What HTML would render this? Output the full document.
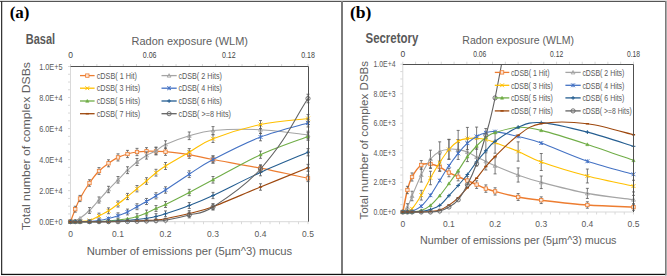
<!DOCTYPE html>
<html><head><meta charset="utf-8"><style>
html,body{margin:0;padding:0;background:#fff;}
svg{display:block;font-family:"Liberation Sans", sans-serif;}
</style></head><body>
<svg width="667" height="276" viewBox="0 0 667 276">
<rect width="667" height="276" fill="#fff"/>
<text x="9.70" y="18.40" font-family='"Liberation Serif", serif'  font-size="17.6" font-weight="bold" fill="#000" textLength="19.80" lengthAdjust="spacingAndGlyphs">(a)</text>
<text x="25.80" y="44.20" font-size="14.00" fill="#595959" text-anchor="start" font-weight="bold" textLength="29.30" lengthAdjust="spacingAndGlyphs">Basal</text>
<text x="131.50" y="44.80" font-size="11.50" fill="#606060" text-anchor="start" font-weight="normal" textLength="116.50" lengthAdjust="spacingAndGlyphs">Radon exposure (WLM)</text>
<text x="86.70" y="255.00" font-size="11.50" fill="#606060" text-anchor="start" font-weight="normal" textLength="205.50" lengthAdjust="spacingAndGlyphs">Number of emissions per (5&#181;m^3) mucus</text>
<text transform="translate(30.00 230.20) rotate(-90)" x="0" y="0" font-size="11.8" fill="#606060" textLength="168.20" lengthAdjust="spacingAndGlyphs">Total number of complex DSBs</text>
<g stroke="#D9D9D9" stroke-width="1">
<path d="M70.50 66.50 L70.50 221.70"/>
<path d="M68.00 221.70 L70.50 221.70"/>
<path d="M68.00 213.94 L70.50 213.94"/>
<path d="M68.00 206.18 L70.50 206.18"/>
<path d="M68.00 198.42 L70.50 198.42"/>
<path d="M68.00 190.66 L70.50 190.66"/>
<path d="M68.00 182.90 L70.50 182.90"/>
<path d="M68.00 175.14 L70.50 175.14"/>
<path d="M68.00 167.38 L70.50 167.38"/>
<path d="M68.00 159.62 L70.50 159.62"/>
<path d="M68.00 151.86 L70.50 151.86"/>
<path d="M68.00 144.10 L70.50 144.10"/>
<path d="M68.00 136.34 L70.50 136.34"/>
<path d="M68.00 128.58 L70.50 128.58"/>
<path d="M68.00 120.82 L70.50 120.82"/>
<path d="M68.00 113.06 L70.50 113.06"/>
<path d="M68.00 105.30 L70.50 105.30"/>
<path d="M68.00 97.54 L70.50 97.54"/>
<path d="M68.00 89.78 L70.50 89.78"/>
<path d="M68.00 82.02 L70.50 82.02"/>
<path d="M68.00 74.26 L70.50 74.26"/>
<path d="M68.00 66.50 L70.50 66.50"/>
<path d="M70.50 221.70 L308.00 221.70"/>
<path d="M70.50 221.70 L70.50 224.20"/>
<path d="M80.00 221.70 L80.00 224.20"/>
<path d="M89.50 221.70 L89.50 224.20"/>
<path d="M99.00 221.70 L99.00 224.20"/>
<path d="M108.50 221.70 L108.50 224.20"/>
<path d="M118.00 221.70 L118.00 224.20"/>
<path d="M127.50 221.70 L127.50 224.20"/>
<path d="M137.00 221.70 L137.00 224.20"/>
<path d="M146.50 221.70 L146.50 224.20"/>
<path d="M156.00 221.70 L156.00 224.20"/>
<path d="M165.50 221.70 L165.50 224.20"/>
<path d="M175.00 221.70 L175.00 224.20"/>
<path d="M184.50 221.70 L184.50 224.20"/>
<path d="M194.00 221.70 L194.00 224.20"/>
<path d="M203.50 221.70 L203.50 224.20"/>
<path d="M213.00 221.70 L213.00 224.20"/>
<path d="M222.50 221.70 L222.50 224.20"/>
<path d="M232.00 221.70 L232.00 224.20"/>
<path d="M241.50 221.70 L241.50 224.20"/>
<path d="M251.00 221.70 L251.00 224.20"/>
<path d="M260.50 221.70 L260.50 224.20"/>
<path d="M270.00 221.70 L270.00 224.20"/>
<path d="M279.50 221.70 L279.50 224.20"/>
<path d="M289.00 221.70 L289.00 224.20"/>
<path d="M298.50 221.70 L298.50 224.20"/>
<path d="M308.00 221.70 L308.00 224.20"/>
<path d="M70.50 64.00 L70.50 66.50"/>
<path d="M83.69 64.00 L83.69 66.50"/>
<path d="M96.89 64.00 L96.89 66.50"/>
<path d="M110.08 64.00 L110.08 66.50"/>
<path d="M123.28 64.00 L123.28 66.50"/>
<path d="M136.47 64.00 L136.47 66.50"/>
<path d="M149.67 64.00 L149.67 66.50"/>
<path d="M162.86 64.00 L162.86 66.50"/>
<path d="M176.06 64.00 L176.06 66.50"/>
<path d="M189.25 64.00 L189.25 66.50"/>
<path d="M202.44 64.00 L202.44 66.50"/>
<path d="M215.64 64.00 L215.64 66.50"/>
<path d="M228.83 64.00 L228.83 66.50"/>
<path d="M242.03 64.00 L242.03 66.50"/>
<path d="M255.22 64.00 L255.22 66.50"/>
<path d="M268.42 64.00 L268.42 66.50"/>
<path d="M281.61 64.00 L281.61 66.50"/>
<path d="M294.81 64.00 L294.81 66.50"/>
<path d="M308.00 64.00 L308.00 66.50"/>
</g>
<text x="62.60" y="224.70" font-size="8.50" fill="#595959" text-anchor="end" font-weight="normal" textLength="23.40" lengthAdjust="spacingAndGlyphs">0.0E+0</text>
<text x="62.60" y="193.66" font-size="8.50" fill="#595959" text-anchor="end" font-weight="normal" textLength="23.40" lengthAdjust="spacingAndGlyphs">2.0E+4</text>
<text x="62.60" y="162.62" font-size="8.50" fill="#595959" text-anchor="end" font-weight="normal" textLength="23.40" lengthAdjust="spacingAndGlyphs">4.0E+4</text>
<text x="62.60" y="131.58" font-size="8.50" fill="#595959" text-anchor="end" font-weight="normal" textLength="23.40" lengthAdjust="spacingAndGlyphs">6.0E+4</text>
<text x="62.60" y="100.54" font-size="8.50" fill="#595959" text-anchor="end" font-weight="normal" textLength="23.40" lengthAdjust="spacingAndGlyphs">8.0E+4</text>
<text x="62.60" y="69.50" font-size="8.50" fill="#595959" text-anchor="end" font-weight="normal" textLength="23.40" lengthAdjust="spacingAndGlyphs">1.0E+5</text>
<text x="70.50" y="236.70" font-size="8.50" fill="#595959" text-anchor="middle" font-weight="normal">0</text>
<text x="118.00" y="236.70" font-size="8.50" fill="#595959" text-anchor="middle" font-weight="normal">0.1</text>
<text x="165.50" y="236.70" font-size="8.50" fill="#595959" text-anchor="middle" font-weight="normal">0.2</text>
<text x="213.00" y="236.70" font-size="8.50" fill="#595959" text-anchor="middle" font-weight="normal">0.3</text>
<text x="260.50" y="236.70" font-size="8.50" fill="#595959" text-anchor="middle" font-weight="normal">0.4</text>
<text x="308.00" y="236.70" font-size="8.50" fill="#595959" text-anchor="middle" font-weight="normal">0.5</text>
<text x="70.50" y="58.10" font-size="8.50" fill="#454545" text-anchor="middle" font-weight="normal">0</text>
<text x="149.67" y="58.10" font-size="8.50" fill="#454545" text-anchor="middle" font-weight="normal" textLength="13.70" lengthAdjust="spacingAndGlyphs">0.06</text>
<text x="228.83" y="58.10" font-size="8.50" fill="#454545" text-anchor="middle" font-weight="normal" textLength="13.70" lengthAdjust="spacingAndGlyphs">0.12</text>
<text x="308.00" y="58.10" font-size="8.50" fill="#454545" text-anchor="middle" font-weight="normal" textLength="13.70" lengthAdjust="spacingAndGlyphs">0.18</text>
<defs><clipPath id="ca"><rect x="67.50" y="66.50" width="243.50" height="158.20"/></clipPath></defs>
<g clip-path="url(#ca)">
<path d="M70.50 221.70 C71.29 219.62 73.67 213.07 75.25 209.20 C76.83 205.33 77.62 202.87 80.00 198.50 C82.38 194.13 86.33 187.58 89.50 183.00 C92.67 178.42 95.83 174.28 99.00 171.00 C102.17 167.72 105.33 165.57 108.50 163.30 C111.67 161.03 114.83 158.95 118.00 157.40 C121.17 155.85 124.33 154.90 127.50 154.00 C130.67 153.10 133.83 152.45 137.00 152.00 C140.17 151.55 143.33 151.42 146.50 151.30 C149.67 151.18 152.83 151.23 156.00 151.30 C159.17 151.37 159.96 151.13 165.50 151.70 C171.04 152.27 181.33 153.40 189.25 154.70 C197.17 156.00 201.12 157.25 213.00 159.50 C224.88 161.75 244.67 165.07 260.50 168.20 C276.33 171.33 300.08 176.62 308.00 178.30" fill="none" stroke="#ED7D31" stroke-width="1.25"/>
<g stroke="#595959" stroke-width="0.8">
<path d="M75.25 206.25 L75.25 212.15 M73.75 206.25 L76.75 206.25 M73.75 212.15 L76.75 212.15"/>
<path d="M80.00 195.42 L80.00 201.58 M78.50 195.42 L81.50 195.42 M78.50 201.58 L81.50 201.58"/>
<path d="M89.50 179.74 L89.50 186.26 M88.00 179.74 L91.00 179.74 M88.00 186.26 L91.00 186.26"/>
<path d="M99.00 167.59 L99.00 174.41 M97.50 167.59 L100.50 167.59 M97.50 174.41 L100.50 174.41"/>
<path d="M108.50 159.80 L108.50 166.80 M107.00 159.80 L110.00 159.80 M107.00 166.80 L110.00 166.80"/>
<path d="M118.00 153.83 L118.00 160.97 M116.50 153.83 L119.50 153.83 M116.50 160.97 L119.50 160.97"/>
<path d="M127.50 150.39 L127.50 157.61 M126.00 150.39 L129.00 150.39 M126.00 157.61 L129.00 157.61"/>
<path d="M137.00 148.36 L137.00 155.64 M135.50 148.36 L138.50 148.36 M135.50 155.64 L138.50 155.64"/>
<path d="M146.50 147.66 L146.50 154.94 M145.00 147.66 L148.00 147.66 M145.00 154.94 L148.00 154.94"/>
<path d="M156.00 147.66 L156.00 154.94 M154.50 147.66 L157.50 147.66 M154.50 154.94 L157.50 154.94"/>
<path d="M165.50 148.06 L165.50 155.34 M164.00 148.06 L167.00 148.06 M164.00 155.34 L167.00 155.34"/>
<path d="M189.25 151.10 L189.25 158.30 M187.75 151.10 L190.75 151.10 M187.75 158.30 L190.75 158.30"/>
<path d="M213.00 155.95 L213.00 163.05 M211.50 155.95 L214.50 155.95 M211.50 163.05 L214.50 163.05"/>
<path d="M260.50 164.76 L260.50 171.64 M259.00 164.76 L262.00 164.76 M259.00 171.64 L262.00 171.64"/>
<path d="M308.00 174.98 L308.00 181.62 M306.50 174.98 L309.50 174.98 M306.50 181.62 L309.50 181.62"/>
</g>
<rect x="68.80" y="220.00" width="3.40" height="3.40" fill="#fbe5d6" stroke="#ED7D31" stroke-width="0.8"/>
<rect x="73.55" y="207.50" width="3.40" height="3.40" fill="#fbe5d6" stroke="#ED7D31" stroke-width="0.8"/>
<rect x="78.30" y="196.80" width="3.40" height="3.40" fill="#fbe5d6" stroke="#ED7D31" stroke-width="0.8"/>
<rect x="87.80" y="181.30" width="3.40" height="3.40" fill="#fbe5d6" stroke="#ED7D31" stroke-width="0.8"/>
<rect x="97.30" y="169.30" width="3.40" height="3.40" fill="#fbe5d6" stroke="#ED7D31" stroke-width="0.8"/>
<rect x="106.80" y="161.60" width="3.40" height="3.40" fill="#fbe5d6" stroke="#ED7D31" stroke-width="0.8"/>
<rect x="116.30" y="155.70" width="3.40" height="3.40" fill="#fbe5d6" stroke="#ED7D31" stroke-width="0.8"/>
<rect x="125.80" y="152.30" width="3.40" height="3.40" fill="#fbe5d6" stroke="#ED7D31" stroke-width="0.8"/>
<rect x="135.30" y="150.30" width="3.40" height="3.40" fill="#fbe5d6" stroke="#ED7D31" stroke-width="0.8"/>
<rect x="144.80" y="149.60" width="3.40" height="3.40" fill="#fbe5d6" stroke="#ED7D31" stroke-width="0.8"/>
<rect x="154.30" y="149.60" width="3.40" height="3.40" fill="#fbe5d6" stroke="#ED7D31" stroke-width="0.8"/>
<rect x="163.80" y="150.00" width="3.40" height="3.40" fill="#fbe5d6" stroke="#ED7D31" stroke-width="0.8"/>
<rect x="187.55" y="153.00" width="3.40" height="3.40" fill="#fbe5d6" stroke="#ED7D31" stroke-width="0.8"/>
<rect x="211.30" y="157.80" width="3.40" height="3.40" fill="#fbe5d6" stroke="#ED7D31" stroke-width="0.8"/>
<rect x="258.80" y="166.50" width="3.40" height="3.40" fill="#fbe5d6" stroke="#ED7D31" stroke-width="0.8"/>
<rect x="306.30" y="176.60" width="3.40" height="3.40" fill="#fbe5d6" stroke="#ED7D31" stroke-width="0.8"/>
<path d="M70.50 221.70 C71.29 221.58 73.67 221.57 75.25 221.00 C76.83 220.43 77.62 220.05 80.00 218.30 C82.38 216.55 86.33 213.55 89.50 210.50 C92.67 207.45 95.83 203.50 99.00 200.00 C102.17 196.50 105.33 192.87 108.50 189.50 C111.67 186.13 114.83 183.02 118.00 179.80 C121.17 176.58 124.33 173.17 127.50 170.20 C130.67 167.23 133.83 164.45 137.00 162.00 C140.17 159.55 143.33 157.38 146.50 155.50 C149.67 153.62 152.83 152.53 156.00 150.70 C159.17 148.87 159.96 146.98 165.50 144.50 C171.04 142.02 181.33 138.13 189.25 135.80 C197.17 133.47 201.12 131.52 213.00 130.50 C224.88 129.48 244.67 128.95 260.50 129.70 C276.33 130.45 300.08 134.12 308.00 135.00" fill="none" stroke="#A5A5A5" stroke-width="1.1"/>
<g stroke="#595959" stroke-width="0.8">
<path d="M89.50 207.57 L89.50 213.43 M88.00 207.57 L91.00 207.57 M88.00 213.43 L91.00 213.43"/>
<path d="M99.00 196.94 L99.00 203.06 M97.50 196.94 L100.50 196.94 M97.50 203.06 L100.50 203.06"/>
<path d="M108.50 186.31 L108.50 192.69 M107.00 186.31 L110.00 186.31 M107.00 192.69 L110.00 192.69"/>
<path d="M118.00 176.50 L118.00 183.10 M116.50 176.50 L119.50 176.50 M116.50 183.10 L119.50 183.10"/>
<path d="M127.50 166.78 L127.50 173.62 M126.00 166.78 L129.00 166.78 M126.00 173.62 L129.00 173.62"/>
<path d="M137.00 158.48 L137.00 165.52 M135.50 158.48 L138.50 158.48 M135.50 165.52 L138.50 165.52"/>
<path d="M146.50 151.91 L146.50 159.09 M145.00 151.91 L148.00 151.91 M145.00 159.09 L148.00 159.09"/>
<path d="M156.00 147.05 L156.00 154.35 M154.50 147.05 L157.50 147.05 M154.50 154.35 L157.50 154.35"/>
<path d="M165.50 140.77 L165.50 148.23 M164.00 140.77 L167.00 140.77 M164.00 148.23 L167.00 148.23"/>
<path d="M189.25 131.97 L189.25 139.63 M187.75 131.97 L190.75 131.97 M187.75 139.63 L190.75 139.63"/>
<path d="M213.00 126.61 L213.00 134.39 M211.50 126.61 L214.50 126.61 M211.50 134.39 L214.50 134.39"/>
<path d="M260.50 125.80 L260.50 133.60 M259.00 125.80 L262.00 125.80 M259.00 133.60 L262.00 133.60"/>
<path d="M308.00 131.16 L308.00 138.84 M306.50 131.16 L309.50 131.16 M306.50 138.84 L309.50 138.84"/>
</g>
<path d="M70.50 219.80 L72.40 223.22 L68.60 223.22 Z" fill="none" stroke="#A5A5A5" stroke-width="0.9"/>
<path d="M75.25 219.10 L77.15 222.52 L73.35 222.52 Z" fill="none" stroke="#A5A5A5" stroke-width="0.9"/>
<path d="M80.00 216.40 L81.90 219.82 L78.10 219.82 Z" fill="none" stroke="#A5A5A5" stroke-width="0.9"/>
<path d="M89.50 208.60 L91.40 212.02 L87.60 212.02 Z" fill="none" stroke="#A5A5A5" stroke-width="0.9"/>
<path d="M99.00 198.10 L100.90 201.52 L97.10 201.52 Z" fill="none" stroke="#A5A5A5" stroke-width="0.9"/>
<path d="M108.50 187.60 L110.40 191.02 L106.60 191.02 Z" fill="none" stroke="#A5A5A5" stroke-width="0.9"/>
<path d="M118.00 177.90 L119.90 181.32 L116.10 181.32 Z" fill="none" stroke="#A5A5A5" stroke-width="0.9"/>
<path d="M127.50 168.30 L129.40 171.72 L125.60 171.72 Z" fill="none" stroke="#A5A5A5" stroke-width="0.9"/>
<path d="M137.00 160.10 L138.90 163.52 L135.10 163.52 Z" fill="none" stroke="#A5A5A5" stroke-width="0.9"/>
<path d="M146.50 153.60 L148.40 157.02 L144.60 157.02 Z" fill="none" stroke="#A5A5A5" stroke-width="0.9"/>
<path d="M156.00 148.80 L157.90 152.22 L154.10 152.22 Z" fill="none" stroke="#A5A5A5" stroke-width="0.9"/>
<path d="M165.50 142.60 L167.40 146.02 L163.60 146.02 Z" fill="none" stroke="#A5A5A5" stroke-width="0.9"/>
<path d="M189.25 133.90 L191.15 137.32 L187.35 137.32 Z" fill="none" stroke="#A5A5A5" stroke-width="0.9"/>
<path d="M213.00 128.60 L214.90 132.02 L211.10 132.02 Z" fill="none" stroke="#A5A5A5" stroke-width="0.9"/>
<path d="M260.50 127.80 L262.40 131.22 L258.60 131.22 Z" fill="none" stroke="#A5A5A5" stroke-width="0.9"/>
<path d="M308.00 133.10 L309.90 136.52 L306.10 136.52 Z" fill="none" stroke="#A5A5A5" stroke-width="0.9"/>
<path d="M70.50 221.70 C71.29 221.70 73.67 221.73 75.25 221.70 C76.83 221.67 77.62 221.70 80.00 221.50 C82.38 221.30 86.33 221.42 89.50 220.50 C92.67 219.58 95.83 217.62 99.00 216.00 C102.17 214.38 105.33 212.80 108.50 210.80 C111.67 208.80 114.83 206.38 118.00 204.00 C121.17 201.62 124.33 199.05 127.50 196.50 C130.67 193.95 133.83 191.28 137.00 188.70 C140.17 186.12 143.33 183.67 146.50 181.00 C149.67 178.33 152.83 175.20 156.00 172.70 C159.17 170.20 159.96 169.42 165.50 166.00 C171.04 162.58 181.33 156.75 189.25 152.20 C197.17 147.65 201.12 143.32 213.00 138.70 C224.88 134.08 244.67 127.87 260.50 124.50 C276.33 121.13 300.08 119.50 308.00 118.50" fill="none" stroke="#FFC000" stroke-width="1.1"/>
<g stroke="#595959" stroke-width="0.8">
<path d="M99.00 213.13 L99.00 218.87 M97.50 213.13 L100.50 213.13 M97.50 218.87 L100.50 218.87"/>
<path d="M108.50 207.87 L108.50 213.73 M107.00 207.87 L110.00 207.87 M107.00 213.73 L110.00 213.73"/>
<path d="M118.00 200.99 L118.00 207.01 M116.50 200.99 L119.50 200.99 M116.50 207.01 L119.50 207.01"/>
<path d="M127.50 193.40 L127.50 199.60 M126.00 193.40 L129.00 193.40 M126.00 199.60 L129.00 199.60"/>
<path d="M137.00 185.50 L137.00 191.90 M135.50 185.50 L138.50 185.50 M135.50 191.90 L138.50 191.90"/>
<path d="M146.50 177.71 L146.50 184.29 M145.00 177.71 L148.00 177.71 M145.00 184.29 L148.00 184.29"/>
<path d="M156.00 169.31 L156.00 176.09 M154.50 169.31 L157.50 169.31 M154.50 176.09 L157.50 176.09"/>
<path d="M165.50 162.53 L165.50 169.47 M164.00 162.53 L167.00 162.53 M164.00 169.47 L167.00 169.47"/>
<path d="M189.25 148.57 L189.25 155.83 M187.75 148.57 L190.75 148.57 M187.75 155.83 L190.75 155.83"/>
<path d="M213.00 134.90 L213.00 142.50 M211.50 134.90 L214.50 134.90 M211.50 142.50 L214.50 142.50"/>
<path d="M260.50 120.53 L260.50 128.47 M259.00 120.53 L262.00 120.53 M259.00 128.47 L262.00 128.47"/>
<path d="M308.00 114.46 L308.00 122.54 M306.50 114.46 L309.50 114.46 M306.50 122.54 L309.50 122.54"/>
</g>
<path d="M68.60 219.80 L72.40 223.60 M68.60 223.60 L72.40 219.80" stroke="#FFC000" stroke-width="1"/>
<path d="M73.35 219.80 L77.15 223.60 M73.35 223.60 L77.15 219.80" stroke="#FFC000" stroke-width="1"/>
<path d="M78.10 219.60 L81.90 223.40 M78.10 223.40 L81.90 219.60" stroke="#FFC000" stroke-width="1"/>
<path d="M87.60 218.60 L91.40 222.40 M87.60 222.40 L91.40 218.60" stroke="#FFC000" stroke-width="1"/>
<path d="M97.10 214.10 L100.90 217.90 M97.10 217.90 L100.90 214.10" stroke="#FFC000" stroke-width="1"/>
<path d="M106.60 208.90 L110.40 212.70 M106.60 212.70 L110.40 208.90" stroke="#FFC000" stroke-width="1"/>
<path d="M116.10 202.10 L119.90 205.90 M116.10 205.90 L119.90 202.10" stroke="#FFC000" stroke-width="1"/>
<path d="M125.60 194.60 L129.40 198.40 M125.60 198.40 L129.40 194.60" stroke="#FFC000" stroke-width="1"/>
<path d="M135.10 186.80 L138.90 190.60 M135.10 190.60 L138.90 186.80" stroke="#FFC000" stroke-width="1"/>
<path d="M144.60 179.10 L148.40 182.90 M144.60 182.90 L148.40 179.10" stroke="#FFC000" stroke-width="1"/>
<path d="M154.10 170.80 L157.90 174.60 M154.10 174.60 L157.90 170.80" stroke="#FFC000" stroke-width="1"/>
<path d="M163.60 164.10 L167.40 167.90 M163.60 167.90 L167.40 164.10" stroke="#FFC000" stroke-width="1"/>
<path d="M187.35 150.30 L191.15 154.10 M187.35 154.10 L191.15 150.30" stroke="#FFC000" stroke-width="1"/>
<path d="M211.10 136.80 L214.90 140.60 M211.10 140.60 L214.90 136.80" stroke="#FFC000" stroke-width="1"/>
<path d="M258.60 122.60 L262.40 126.40 M258.60 126.40 L262.40 122.60" stroke="#FFC000" stroke-width="1"/>
<path d="M306.10 116.60 L309.90 120.40 M306.10 120.40 L309.90 116.60" stroke="#FFC000" stroke-width="1"/>
<path d="M70.50 221.70 C71.29 221.70 73.67 221.70 75.25 221.70 C76.83 221.70 77.62 221.73 80.00 221.70 C82.38 221.67 86.33 221.70 89.50 221.50 C92.67 221.30 95.83 221.00 99.00 220.50 C102.17 220.00 105.33 219.30 108.50 218.50 C111.67 217.70 114.83 216.78 118.00 215.70 C121.17 214.62 124.33 213.50 127.50 212.00 C130.67 210.50 133.83 208.45 137.00 206.70 C140.17 204.95 143.33 203.32 146.50 201.50 C149.67 199.68 152.83 197.72 156.00 195.80 C159.17 193.88 159.96 193.60 165.50 190.00 C171.04 186.40 181.33 179.28 189.25 174.20 C197.17 169.12 201.12 165.70 213.00 159.50 C224.88 153.30 244.67 143.08 260.50 137.00 C276.33 130.92 300.08 125.33 308.00 123.00" fill="none" stroke="#4472C4" stroke-width="1.1"/>
<g stroke="#595959" stroke-width="0.8">
<path d="M118.00 212.83 L118.00 218.57 M116.50 212.83 L119.50 212.83 M116.50 218.57 L119.50 218.57"/>
<path d="M127.50 209.08 L127.50 214.92 M126.00 209.08 L129.00 209.08 M126.00 214.92 L129.00 214.92"/>
<path d="M137.00 203.72 L137.00 209.68 M135.50 203.72 L138.50 203.72 M135.50 209.68 L138.50 209.68"/>
<path d="M146.50 198.46 L146.50 204.54 M145.00 198.46 L148.00 198.46 M145.00 204.54 L148.00 204.54"/>
<path d="M156.00 192.69 L156.00 198.91 M154.50 192.69 L157.50 192.69 M154.50 198.91 L157.50 198.91"/>
<path d="M165.50 186.82 L165.50 193.18 M164.00 186.82 L167.00 186.82 M164.00 193.18 L167.00 193.18"/>
<path d="M189.25 170.83 L189.25 177.57 M187.75 170.83 L190.75 170.83 M187.75 177.57 L190.75 177.57"/>
<path d="M213.00 155.95 L213.00 163.05 M211.50 155.95 L214.50 155.95 M211.50 163.05 L214.50 163.05"/>
<path d="M260.50 133.18 L260.50 140.82 M259.00 133.18 L262.00 133.18 M259.00 140.82 L262.00 140.82"/>
<path d="M308.00 119.02 L308.00 126.98 M306.50 119.02 L309.50 119.02 M306.50 126.98 L309.50 126.98"/>
</g>
<path d="M68.60 219.80 L72.40 223.60 M68.60 223.60 L72.40 219.80 M70.50 219.80 L70.50 223.60" stroke="#4472C4" stroke-width="1"/>
<path d="M73.35 219.80 L77.15 223.60 M73.35 223.60 L77.15 219.80 M75.25 219.80 L75.25 223.60" stroke="#4472C4" stroke-width="1"/>
<path d="M78.10 219.80 L81.90 223.60 M78.10 223.60 L81.90 219.80 M80.00 219.80 L80.00 223.60" stroke="#4472C4" stroke-width="1"/>
<path d="M87.60 219.60 L91.40 223.40 M87.60 223.40 L91.40 219.60 M89.50 219.60 L89.50 223.40" stroke="#4472C4" stroke-width="1"/>
<path d="M97.10 218.60 L100.90 222.40 M97.10 222.40 L100.90 218.60 M99.00 218.60 L99.00 222.40" stroke="#4472C4" stroke-width="1"/>
<path d="M106.60 216.60 L110.40 220.40 M106.60 220.40 L110.40 216.60 M108.50 216.60 L108.50 220.40" stroke="#4472C4" stroke-width="1"/>
<path d="M116.10 213.80 L119.90 217.60 M116.10 217.60 L119.90 213.80 M118.00 213.80 L118.00 217.60" stroke="#4472C4" stroke-width="1"/>
<path d="M125.60 210.10 L129.40 213.90 M125.60 213.90 L129.40 210.10 M127.50 210.10 L127.50 213.90" stroke="#4472C4" stroke-width="1"/>
<path d="M135.10 204.80 L138.90 208.60 M135.10 208.60 L138.90 204.80 M137.00 204.80 L137.00 208.60" stroke="#4472C4" stroke-width="1"/>
<path d="M144.60 199.60 L148.40 203.40 M144.60 203.40 L148.40 199.60 M146.50 199.60 L146.50 203.40" stroke="#4472C4" stroke-width="1"/>
<path d="M154.10 193.90 L157.90 197.70 M154.10 197.70 L157.90 193.90 M156.00 193.90 L156.00 197.70" stroke="#4472C4" stroke-width="1"/>
<path d="M163.60 188.10 L167.40 191.90 M163.60 191.90 L167.40 188.10 M165.50 188.10 L165.50 191.90" stroke="#4472C4" stroke-width="1"/>
<path d="M187.35 172.30 L191.15 176.10 M187.35 176.10 L191.15 172.30 M189.25 172.30 L189.25 176.10" stroke="#4472C4" stroke-width="1"/>
<path d="M211.10 157.60 L214.90 161.40 M211.10 161.40 L214.90 157.60 M213.00 157.60 L213.00 161.40" stroke="#4472C4" stroke-width="1"/>
<path d="M258.60 135.10 L262.40 138.90 M258.60 138.90 L262.40 135.10 M260.50 135.10 L260.50 138.90" stroke="#4472C4" stroke-width="1"/>
<path d="M306.10 121.10 L309.90 124.90 M306.10 124.90 L309.90 121.10 M308.00 121.10 L308.00 124.90" stroke="#4472C4" stroke-width="1"/>
<path d="M70.50 221.70 C71.29 221.70 73.67 221.70 75.25 221.70 C76.83 221.70 77.62 221.70 80.00 221.70 C82.38 221.70 86.33 221.73 89.50 221.70 C92.67 221.67 95.83 221.62 99.00 221.50 C102.17 221.38 105.33 221.25 108.50 221.00 C111.67 220.75 114.83 220.38 118.00 220.00 C121.17 219.62 124.33 219.28 127.50 218.70 C130.67 218.12 133.83 217.45 137.00 216.50 C140.17 215.55 143.33 214.33 146.50 213.00 C149.67 211.67 152.83 209.92 156.00 208.50 C159.17 207.08 159.96 207.17 165.50 204.50 C171.04 201.83 181.33 196.62 189.25 192.50 C197.17 188.38 201.12 186.10 213.00 179.80 C224.88 173.50 244.67 161.92 260.50 154.70 C276.33 147.48 300.08 139.53 308.00 136.50" fill="none" stroke="#70AD47" stroke-width="1.1"/>
<g stroke="#595959" stroke-width="0.8">
<path d="M137.00 213.64 L137.00 219.36 M135.50 213.64 L138.50 213.64 M135.50 219.36 L138.50 219.36"/>
<path d="M146.50 210.10 L146.50 215.90 M145.00 210.10 L148.00 210.10 M145.00 215.90 L148.00 215.90"/>
<path d="M156.00 205.54 L156.00 211.46 M154.50 205.54 L157.50 205.54 M154.50 211.46 L157.50 211.46"/>
<path d="M165.50 201.49 L165.50 207.51 M164.00 201.49 L167.00 201.49 M164.00 207.51 L167.00 207.51"/>
<path d="M189.25 189.35 L189.25 195.65 M187.75 189.35 L190.75 189.35 M187.75 195.65 L190.75 195.65"/>
<path d="M213.00 176.50 L213.00 183.10 M211.50 176.50 L214.50 176.50 M211.50 183.10 L214.50 183.10"/>
<path d="M260.50 151.10 L260.50 158.30 M259.00 151.10 L262.00 151.10 M259.00 158.30 L262.00 158.30"/>
<path d="M308.00 132.68 L308.00 140.32 M306.50 132.68 L309.50 132.68 M306.50 140.32 L309.50 140.32"/>
</g>
<path d="M70.50 220.10 L72.10 222.98 L68.90 222.98 Z" fill="#70AD47" stroke="#70AD47" stroke-width="0.6"/>
<path d="M75.25 220.10 L76.85 222.98 L73.65 222.98 Z" fill="#70AD47" stroke="#70AD47" stroke-width="0.6"/>
<path d="M80.00 220.10 L81.60 222.98 L78.40 222.98 Z" fill="#70AD47" stroke="#70AD47" stroke-width="0.6"/>
<path d="M89.50 220.10 L91.10 222.98 L87.90 222.98 Z" fill="#70AD47" stroke="#70AD47" stroke-width="0.6"/>
<path d="M99.00 219.90 L100.60 222.78 L97.40 222.78 Z" fill="#70AD47" stroke="#70AD47" stroke-width="0.6"/>
<path d="M108.50 219.40 L110.10 222.28 L106.90 222.28 Z" fill="#70AD47" stroke="#70AD47" stroke-width="0.6"/>
<path d="M118.00 218.40 L119.60 221.28 L116.40 221.28 Z" fill="#70AD47" stroke="#70AD47" stroke-width="0.6"/>
<path d="M127.50 217.10 L129.10 219.98 L125.90 219.98 Z" fill="#70AD47" stroke="#70AD47" stroke-width="0.6"/>
<path d="M137.00 214.90 L138.60 217.78 L135.40 217.78 Z" fill="#70AD47" stroke="#70AD47" stroke-width="0.6"/>
<path d="M146.50 211.40 L148.10 214.28 L144.90 214.28 Z" fill="#70AD47" stroke="#70AD47" stroke-width="0.6"/>
<path d="M156.00 206.90 L157.60 209.78 L154.40 209.78 Z" fill="#70AD47" stroke="#70AD47" stroke-width="0.6"/>
<path d="M165.50 202.90 L167.10 205.78 L163.90 205.78 Z" fill="#70AD47" stroke="#70AD47" stroke-width="0.6"/>
<path d="M189.25 190.90 L190.85 193.78 L187.65 193.78 Z" fill="#70AD47" stroke="#70AD47" stroke-width="0.6"/>
<path d="M213.00 178.20 L214.60 181.08 L211.40 181.08 Z" fill="#70AD47" stroke="#70AD47" stroke-width="0.6"/>
<path d="M260.50 153.10 L262.10 155.98 L258.90 155.98 Z" fill="#70AD47" stroke="#70AD47" stroke-width="0.6"/>
<path d="M308.00 134.90 L309.60 137.78 L306.40 137.78 Z" fill="#70AD47" stroke="#70AD47" stroke-width="0.6"/>
<path d="M70.50 221.70 C71.29 221.70 73.67 221.70 75.25 221.70 C76.83 221.70 77.62 221.70 80.00 221.70 C82.38 221.70 86.33 221.70 89.50 221.70 C92.67 221.70 95.83 221.73 99.00 221.70 C102.17 221.67 105.33 221.62 108.50 221.50 C111.67 221.38 114.83 221.17 118.00 221.00 C121.17 220.83 124.33 220.75 127.50 220.50 C130.67 220.25 133.83 219.87 137.00 219.50 C140.17 219.13 143.33 218.80 146.50 218.30 C149.67 217.80 152.83 217.25 156.00 216.50 C159.17 215.75 159.96 215.63 165.50 213.80 C171.04 211.97 181.33 208.55 189.25 205.50 C197.17 202.45 201.12 201.02 213.00 195.50 C224.88 189.98 244.67 179.62 260.50 172.40 C276.33 165.18 300.08 155.57 308.00 152.20" fill="none" stroke="#255E91" stroke-width="1.1"/>
<g stroke="#595959" stroke-width="0.8">
<path d="M156.00 213.64 L156.00 219.36 M154.50 213.64 L157.50 213.64 M154.50 219.36 L157.50 219.36"/>
<path d="M165.50 210.91 L165.50 216.69 M164.00 210.91 L167.00 210.91 M164.00 216.69 L167.00 216.69"/>
<path d="M189.25 202.51 L189.25 208.49 M187.75 202.51 L190.75 202.51 M187.75 208.49 L190.75 208.49"/>
<path d="M213.00 192.39 L213.00 198.61 M211.50 192.39 L214.50 192.39 M211.50 198.61 L214.50 198.61"/>
<path d="M260.50 169.01 L260.50 175.79 M259.00 169.01 L262.00 169.01 M259.00 175.79 L262.00 175.79"/>
<path d="M308.00 148.57 L308.00 155.83 M306.50 148.57 L309.50 148.57 M306.50 155.83 L309.50 155.83"/>
</g>
<path d="M68.60 221.70 L72.40 221.70 M70.50 219.80 L70.50 223.60" stroke="#255E91" stroke-width="1"/>
<path d="M73.35 221.70 L77.15 221.70 M75.25 219.80 L75.25 223.60" stroke="#255E91" stroke-width="1"/>
<path d="M78.10 221.70 L81.90 221.70 M80.00 219.80 L80.00 223.60" stroke="#255E91" stroke-width="1"/>
<path d="M87.60 221.70 L91.40 221.70 M89.50 219.80 L89.50 223.60" stroke="#255E91" stroke-width="1"/>
<path d="M97.10 221.70 L100.90 221.70 M99.00 219.80 L99.00 223.60" stroke="#255E91" stroke-width="1"/>
<path d="M106.60 221.50 L110.40 221.50 M108.50 219.60 L108.50 223.40" stroke="#255E91" stroke-width="1"/>
<path d="M116.10 221.00 L119.90 221.00 M118.00 219.10 L118.00 222.90" stroke="#255E91" stroke-width="1"/>
<path d="M125.60 220.50 L129.40 220.50 M127.50 218.60 L127.50 222.40" stroke="#255E91" stroke-width="1"/>
<path d="M135.10 219.50 L138.90 219.50 M137.00 217.60 L137.00 221.40" stroke="#255E91" stroke-width="1"/>
<path d="M144.60 218.30 L148.40 218.30 M146.50 216.40 L146.50 220.20" stroke="#255E91" stroke-width="1"/>
<path d="M154.10 216.50 L157.90 216.50 M156.00 214.60 L156.00 218.40" stroke="#255E91" stroke-width="1"/>
<path d="M163.60 213.80 L167.40 213.80 M165.50 211.90 L165.50 215.70" stroke="#255E91" stroke-width="1"/>
<path d="M187.35 205.50 L191.15 205.50 M189.25 203.60 L189.25 207.40" stroke="#255E91" stroke-width="1"/>
<path d="M211.10 195.50 L214.90 195.50 M213.00 193.60 L213.00 197.40" stroke="#255E91" stroke-width="1"/>
<path d="M258.60 172.40 L262.40 172.40 M260.50 170.50 L260.50 174.30" stroke="#255E91" stroke-width="1"/>
<path d="M306.10 152.20 L309.90 152.20 M308.00 150.30 L308.00 154.10" stroke="#255E91" stroke-width="1"/>
<path d="M70.50 221.70 C71.29 221.70 73.67 221.70 75.25 221.70 C76.83 221.70 77.62 221.70 80.00 221.70 C82.38 221.70 86.33 221.70 89.50 221.70 C92.67 221.70 95.83 221.70 99.00 221.70 C102.17 221.70 105.33 221.73 108.50 221.70 C111.67 221.67 114.83 221.57 118.00 221.50 C121.17 221.43 124.33 221.38 127.50 221.30 C130.67 221.22 133.83 221.13 137.00 221.00 C140.17 220.87 143.33 220.67 146.50 220.50 C149.67 220.33 152.83 220.30 156.00 220.00 C159.17 219.70 159.96 219.78 165.50 218.70 C171.04 217.62 181.33 215.50 189.25 213.50 C197.17 211.50 201.12 211.12 213.00 206.70 C224.88 202.28 244.67 193.48 260.50 187.00 C276.33 180.52 300.08 171.00 308.00 167.80" fill="none" stroke="#9E480E" stroke-width="1.1"/>
<g stroke="#595959" stroke-width="0.8">
<path d="M189.25 210.60 L189.25 216.40 M187.75 210.60 L190.75 210.60 M187.75 216.40 L190.75 216.40"/>
<path d="M213.00 203.72 L213.00 209.68 M211.50 203.72 L214.50 203.72 M211.50 209.68 L214.50 209.68"/>
<path d="M260.50 183.78 L260.50 190.22 M259.00 183.78 L262.00 183.78 M259.00 190.22 L262.00 190.22"/>
<path d="M308.00 164.35 L308.00 171.25 M306.50 164.35 L309.50 164.35 M306.50 171.25 L309.50 171.25"/>
</g>
<path d="M68.90 221.70 L72.10 221.70" stroke="#9E480E" stroke-width="1.5"/>
<path d="M73.65 221.70 L76.85 221.70" stroke="#9E480E" stroke-width="1.5"/>
<path d="M78.40 221.70 L81.60 221.70" stroke="#9E480E" stroke-width="1.5"/>
<path d="M87.90 221.70 L91.10 221.70" stroke="#9E480E" stroke-width="1.5"/>
<path d="M97.40 221.70 L100.60 221.70" stroke="#9E480E" stroke-width="1.5"/>
<path d="M106.90 221.70 L110.10 221.70" stroke="#9E480E" stroke-width="1.5"/>
<path d="M116.40 221.50 L119.60 221.50" stroke="#9E480E" stroke-width="1.5"/>
<path d="M125.90 221.30 L129.10 221.30" stroke="#9E480E" stroke-width="1.5"/>
<path d="M135.40 221.00 L138.60 221.00" stroke="#9E480E" stroke-width="1.5"/>
<path d="M144.90 220.50 L148.10 220.50" stroke="#9E480E" stroke-width="1.5"/>
<path d="M154.40 220.00 L157.60 220.00" stroke="#9E480E" stroke-width="1.5"/>
<path d="M163.90 218.70 L167.10 218.70" stroke="#9E480E" stroke-width="1.5"/>
<path d="M187.65 213.50 L190.85 213.50" stroke="#9E480E" stroke-width="1.5"/>
<path d="M211.40 206.70 L214.60 206.70" stroke="#9E480E" stroke-width="1.5"/>
<path d="M258.90 187.00 L262.10 187.00" stroke="#9E480E" stroke-width="1.5"/>
<path d="M306.40 167.80 L309.60 167.80" stroke="#9E480E" stroke-width="1.5"/>
<path d="M70.50 221.70 C71.29 221.70 73.67 221.70 75.25 221.70 C76.83 221.70 77.62 221.70 80.00 221.70 C82.38 221.70 86.33 221.70 89.50 221.70 C92.67 221.70 95.83 221.70 99.00 221.70 C102.17 221.70 105.33 221.70 108.50 221.70 C111.67 221.70 114.83 221.73 118.00 221.70 C121.17 221.67 124.33 221.57 127.50 221.50 C130.67 221.43 133.83 221.38 137.00 221.30 C140.17 221.22 143.33 221.10 146.50 221.00 C149.67 220.90 152.83 220.83 156.00 220.70 C159.17 220.57 159.96 221.15 165.50 220.20 C171.04 219.25 181.33 217.20 189.25 215.00 C197.17 212.80 201.12 214.67 213.00 207.00 C224.88 199.33 244.67 187.08 260.50 169.00 C289.00 136.45 293.75 119.65 308.00 98.50" fill="none" stroke="#636363" stroke-width="1.1"/>
<g stroke="#595959" stroke-width="0.8">
<path d="M189.25 212.12 L189.25 217.88 M187.75 212.12 L190.75 212.12 M187.75 217.88 L190.75 217.88"/>
<path d="M213.00 204.02 L213.00 209.98 M211.50 204.02 L214.50 204.02 M211.50 209.98 L214.50 209.98"/>
<path d="M260.50 165.57 L260.50 172.43 M259.00 165.57 L262.00 165.57 M259.00 172.43 L262.00 172.43"/>
<path d="M308.00 94.22 L308.00 102.78 M306.50 94.22 L309.50 94.22 M306.50 102.78 L309.50 102.78"/>
</g>
<circle cx="70.50" cy="221.70" r="2.10" fill="none" stroke="#636363" stroke-width="0.9"/>
<circle cx="75.25" cy="221.70" r="2.10" fill="none" stroke="#636363" stroke-width="0.9"/>
<circle cx="80.00" cy="221.70" r="2.10" fill="none" stroke="#636363" stroke-width="0.9"/>
<circle cx="89.50" cy="221.70" r="2.10" fill="none" stroke="#636363" stroke-width="0.9"/>
<circle cx="99.00" cy="221.70" r="2.10" fill="none" stroke="#636363" stroke-width="0.9"/>
<circle cx="108.50" cy="221.70" r="2.10" fill="none" stroke="#636363" stroke-width="0.9"/>
<circle cx="118.00" cy="221.70" r="2.10" fill="none" stroke="#636363" stroke-width="0.9"/>
<circle cx="127.50" cy="221.50" r="2.10" fill="none" stroke="#636363" stroke-width="0.9"/>
<circle cx="137.00" cy="221.30" r="2.10" fill="none" stroke="#636363" stroke-width="0.9"/>
<circle cx="146.50" cy="221.00" r="2.10" fill="none" stroke="#636363" stroke-width="0.9"/>
<circle cx="156.00" cy="220.70" r="2.10" fill="none" stroke="#636363" stroke-width="0.9"/>
<circle cx="165.50" cy="220.20" r="2.10" fill="none" stroke="#636363" stroke-width="0.9"/>
<circle cx="189.25" cy="215.00" r="2.10" fill="none" stroke="#636363" stroke-width="0.9"/>
<circle cx="213.00" cy="207.00" r="2.10" fill="none" stroke="#636363" stroke-width="0.9"/>
<circle cx="260.50" cy="169.00" r="2.10" fill="none" stroke="#636363" stroke-width="0.9"/>
<circle cx="308.00" cy="98.50" r="2.10" fill="none" stroke="#636363" stroke-width="0.9"/>
</g>
<path d="M70.50 66.50 L308.50 66.50 L308.50 221.70" fill="none" stroke="#505050" stroke-width="1"/>
<path d="M80.00 75.60 L94.60 75.60" stroke="#ED7D31" stroke-width="1.3"/>
<rect x="85.60" y="73.90" width="3.40" height="3.40" fill="#fbe5d6" stroke="#ED7D31" stroke-width="0.8"/>
<text x="96.70" y="78.80" font-size="9.00" fill="#595959" text-anchor="start" font-weight="normal" textLength="40.30" lengthAdjust="spacingAndGlyphs">cDSB( 1 Hit)</text>
<path d="M161.50 75.60 L176.70 75.60" stroke="#A5A5A5" stroke-width="1.3"/>
<path d="M169.10 73.70 L171.00 77.12 L167.20 77.12 Z" fill="none" stroke="#A5A5A5" stroke-width="0.9"/>
<text x="178.50" y="78.80" font-size="9.00" fill="#595959" text-anchor="start" font-weight="normal" textLength="43.50" lengthAdjust="spacingAndGlyphs">cDSB( 2 Hits)</text>
<path d="M80.00 88.20 L94.60 88.20" stroke="#FFC000" stroke-width="1.3"/>
<path d="M85.40 86.30 L89.20 90.10 M85.40 90.10 L89.20 86.30" stroke="#FFC000" stroke-width="1"/>
<text x="96.70" y="91.40" font-size="9.00" fill="#595959" text-anchor="start" font-weight="normal" textLength="43.50" lengthAdjust="spacingAndGlyphs">cDSB( 3 Hits)</text>
<path d="M161.50 88.20 L176.70 88.20" stroke="#4472C4" stroke-width="1.3"/>
<path d="M167.20 86.30 L171.00 90.10 M167.20 90.10 L171.00 86.30 M169.10 86.30 L169.10 90.10" stroke="#4472C4" stroke-width="1"/>
<text x="178.50" y="91.40" font-size="9.00" fill="#595959" text-anchor="start" font-weight="normal" textLength="43.50" lengthAdjust="spacingAndGlyphs">cDSB( 4 Hits)</text>
<path d="M80.00 101.00 L94.60 101.00" stroke="#70AD47" stroke-width="1.3"/>
<path d="M87.30 99.40 L88.90 102.28 L85.70 102.28 Z" fill="#70AD47" stroke="#70AD47" stroke-width="0.6"/>
<text x="96.70" y="104.20" font-size="9.00" fill="#595959" text-anchor="start" font-weight="normal" textLength="43.50" lengthAdjust="spacingAndGlyphs">cDSB( 5 Hits)</text>
<path d="M161.50 101.00 L176.70 101.00" stroke="#255E91" stroke-width="1.3"/>
<path d="M167.20 101.00 L171.00 101.00 M169.10 99.10 L169.10 102.90" stroke="#255E91" stroke-width="1"/>
<text x="178.50" y="104.20" font-size="9.00" fill="#595959" text-anchor="start" font-weight="normal" textLength="43.50" lengthAdjust="spacingAndGlyphs">cDSB( 6 Hits)</text>
<path d="M80.00 113.70 L94.60 113.70" stroke="#9E480E" stroke-width="1.3"/>
<path d="M85.70 113.70 L88.90 113.70" stroke="#9E480E" stroke-width="1.5"/>
<text x="96.70" y="116.90" font-size="9.00" fill="#595959" text-anchor="start" font-weight="normal" textLength="43.50" lengthAdjust="spacingAndGlyphs">cDSB( 7 Hits)</text>
<path d="M161.50 113.70 L176.70 113.70" stroke="#636363" stroke-width="1.3"/>
<circle cx="169.10" cy="113.70" r="2.10" fill="none" stroke="#636363" stroke-width="0.9"/>
<text x="178.50" y="116.90" font-size="9.00" fill="#595959" text-anchor="start" font-weight="normal" textLength="52.50" lengthAdjust="spacingAndGlyphs">cDSB( >=8 Hits)</text>
<text x="349.90" y="18.40" font-family='"Liberation Serif", serif'  font-size="17.6" font-weight="bold" fill="#000" textLength="21.50" lengthAdjust="spacingAndGlyphs">(b)</text>
<text x="365.50" y="42.60" font-size="14.00" fill="#595959" text-anchor="start" font-weight="bold" textLength="52.80" lengthAdjust="spacingAndGlyphs">Secretory</text>
<text x="462.30" y="44.00" font-size="11.50" fill="#606060" text-anchor="start" font-weight="normal" textLength="111.80" lengthAdjust="spacingAndGlyphs">Radon exposure (WLM)</text>
<text x="419.90" y="244.00" font-size="11.50" fill="#606060" text-anchor="start" font-weight="normal" textLength="196.60" lengthAdjust="spacingAndGlyphs">Number of emissions per (5&#181;m^3) mucus</text>
<text transform="translate(367.80 219.60) rotate(-90)" x="0" y="0" font-size="11.8" fill="#606060" textLength="158.70" lengthAdjust="spacingAndGlyphs">Total number of complex DSBs</text>
<g stroke="#D9D9D9" stroke-width="1">
<path d="M402.80 64.20 L402.80 212.00"/>
<path d="M400.30 212.00 L402.80 212.00"/>
<path d="M400.30 204.61 L402.80 204.61"/>
<path d="M400.30 197.22 L402.80 197.22"/>
<path d="M400.30 189.83 L402.80 189.83"/>
<path d="M400.30 182.44 L402.80 182.44"/>
<path d="M400.30 175.05 L402.80 175.05"/>
<path d="M400.30 167.66 L402.80 167.66"/>
<path d="M400.30 160.27 L402.80 160.27"/>
<path d="M400.30 152.88 L402.80 152.88"/>
<path d="M400.30 145.49 L402.80 145.49"/>
<path d="M400.30 138.10 L402.80 138.10"/>
<path d="M400.30 130.71 L402.80 130.71"/>
<path d="M400.30 123.32 L402.80 123.32"/>
<path d="M400.30 115.93 L402.80 115.93"/>
<path d="M400.30 108.54 L402.80 108.54"/>
<path d="M400.30 101.15 L402.80 101.15"/>
<path d="M400.30 93.76 L402.80 93.76"/>
<path d="M400.30 86.37 L402.80 86.37"/>
<path d="M400.30 78.98 L402.80 78.98"/>
<path d="M400.30 71.59 L402.80 71.59"/>
<path d="M400.30 64.20 L402.80 64.20"/>
<path d="M402.80 212.00 L633.50 212.00"/>
<path d="M402.80 212.00 L402.80 214.50"/>
<path d="M412.03 212.00 L412.03 214.50"/>
<path d="M421.26 212.00 L421.26 214.50"/>
<path d="M430.48 212.00 L430.48 214.50"/>
<path d="M439.71 212.00 L439.71 214.50"/>
<path d="M448.94 212.00 L448.94 214.50"/>
<path d="M458.17 212.00 L458.17 214.50"/>
<path d="M467.40 212.00 L467.40 214.50"/>
<path d="M476.62 212.00 L476.62 214.50"/>
<path d="M485.85 212.00 L485.85 214.50"/>
<path d="M495.08 212.00 L495.08 214.50"/>
<path d="M504.31 212.00 L504.31 214.50"/>
<path d="M513.54 212.00 L513.54 214.50"/>
<path d="M522.76 212.00 L522.76 214.50"/>
<path d="M531.99 212.00 L531.99 214.50"/>
<path d="M541.22 212.00 L541.22 214.50"/>
<path d="M550.45 212.00 L550.45 214.50"/>
<path d="M559.68 212.00 L559.68 214.50"/>
<path d="M568.90 212.00 L568.90 214.50"/>
<path d="M578.13 212.00 L578.13 214.50"/>
<path d="M587.36 212.00 L587.36 214.50"/>
<path d="M596.59 212.00 L596.59 214.50"/>
<path d="M605.82 212.00 L605.82 214.50"/>
<path d="M615.04 212.00 L615.04 214.50"/>
<path d="M624.27 212.00 L624.27 214.50"/>
<path d="M633.50 212.00 L633.50 214.50"/>
<path d="M402.80 61.70 L402.80 64.20"/>
<path d="M415.62 61.70 L415.62 64.20"/>
<path d="M428.43 61.70 L428.43 64.20"/>
<path d="M441.25 61.70 L441.25 64.20"/>
<path d="M454.07 61.70 L454.07 64.20"/>
<path d="M466.88 61.70 L466.88 64.20"/>
<path d="M479.70 61.70 L479.70 64.20"/>
<path d="M492.52 61.70 L492.52 64.20"/>
<path d="M505.33 61.70 L505.33 64.20"/>
<path d="M518.15 61.70 L518.15 64.20"/>
<path d="M530.97 61.70 L530.97 64.20"/>
<path d="M543.78 61.70 L543.78 64.20"/>
<path d="M556.60 61.70 L556.60 64.20"/>
<path d="M569.42 61.70 L569.42 64.20"/>
<path d="M582.23 61.70 L582.23 64.20"/>
<path d="M595.05 61.70 L595.05 64.20"/>
<path d="M607.87 61.70 L607.87 64.20"/>
<path d="M620.68 61.70 L620.68 64.20"/>
<path d="M633.50 61.70 L633.50 64.20"/>
</g>
<text x="395.50" y="215.00" font-size="8.50" fill="#595959" text-anchor="end" font-weight="normal" textLength="22.00" lengthAdjust="spacingAndGlyphs">0.0E+0</text>
<text x="395.50" y="185.44" font-size="8.50" fill="#595959" text-anchor="end" font-weight="normal" textLength="22.00" lengthAdjust="spacingAndGlyphs">2.0E+3</text>
<text x="395.50" y="155.88" font-size="8.50" fill="#595959" text-anchor="end" font-weight="normal" textLength="22.00" lengthAdjust="spacingAndGlyphs">4.0E+3</text>
<text x="395.50" y="126.32" font-size="8.50" fill="#595959" text-anchor="end" font-weight="normal" textLength="22.00" lengthAdjust="spacingAndGlyphs">6.0E+3</text>
<text x="395.50" y="96.76" font-size="8.50" fill="#595959" text-anchor="end" font-weight="normal" textLength="22.00" lengthAdjust="spacingAndGlyphs">8.0E+3</text>
<text x="395.50" y="67.20" font-size="8.50" fill="#595959" text-anchor="end" font-weight="normal" textLength="22.00" lengthAdjust="spacingAndGlyphs">1.0E+4</text>
<text x="402.80" y="226.50" font-size="8.50" fill="#595959" text-anchor="middle" font-weight="normal">0</text>
<text x="448.94" y="226.50" font-size="8.50" fill="#595959" text-anchor="middle" font-weight="normal">0.1</text>
<text x="495.08" y="226.50" font-size="8.50" fill="#595959" text-anchor="middle" font-weight="normal">0.2</text>
<text x="541.22" y="226.50" font-size="8.50" fill="#595959" text-anchor="middle" font-weight="normal">0.3</text>
<text x="587.36" y="226.50" font-size="8.50" fill="#595959" text-anchor="middle" font-weight="normal">0.4</text>
<text x="633.50" y="226.50" font-size="8.50" fill="#595959" text-anchor="middle" font-weight="normal">0.5</text>
<text x="402.80" y="57.10" font-size="8.50" fill="#454545" text-anchor="middle" font-weight="normal">0</text>
<text x="479.70" y="57.10" font-size="8.50" fill="#454545" text-anchor="middle" font-weight="normal" textLength="13.10" lengthAdjust="spacingAndGlyphs">0.06</text>
<text x="556.60" y="57.10" font-size="8.50" fill="#454545" text-anchor="middle" font-weight="normal" textLength="13.10" lengthAdjust="spacingAndGlyphs">0.12</text>
<text x="633.50" y="57.10" font-size="8.50" fill="#454545" text-anchor="middle" font-weight="normal" textLength="13.10" lengthAdjust="spacingAndGlyphs">0.18</text>
<defs><clipPath id="cb"><rect x="399.80" y="64.20" width="236.70" height="150.80"/></clipPath></defs>
<g clip-path="url(#cb)">
<path d="M402.80 212.00 C403.57 208.33 405.88 195.83 407.41 190.00 C408.95 184.17 409.72 181.17 412.03 177.00 C414.34 172.83 418.18 167.17 421.26 165.00 C424.33 162.83 427.41 163.67 430.48 164.00 C433.56 164.33 436.64 165.57 439.71 167.00 C442.79 168.43 445.86 170.97 448.94 172.60 C452.02 174.23 455.09 175.48 458.17 176.80 C461.24 178.12 464.32 179.20 467.40 180.50 C470.47 181.80 473.55 183.25 476.62 184.60 C479.70 185.95 482.78 187.47 485.85 188.60 C488.93 189.73 489.70 190.00 495.08 191.40 C500.46 192.80 510.46 195.53 518.15 197.00 C525.84 198.47 529.69 198.87 541.22 200.20 C552.75 201.53 571.98 203.85 587.36 205.00 C602.74 206.15 625.81 206.75 633.50 207.10" fill="none" stroke="#ED7D31" stroke-width="1.5"/>
<g stroke="#595959" stroke-width="0.8">
<path d="M407.41 186.34 L407.41 193.66 M405.91 186.34 L408.91 186.34 M405.91 193.66 L408.91 193.66"/>
<path d="M412.03 172.95 L412.03 181.05 M410.53 172.95 L413.53 172.95 M410.53 181.05 L413.53 181.05"/>
<path d="M421.26 160.59 L421.26 169.41 M419.76 160.59 L422.76 160.59 M419.76 169.41 L422.76 169.41"/>
<path d="M430.48 159.56 L430.48 168.44 M428.98 159.56 L431.98 159.56 M428.98 168.44 L431.98 168.44"/>
<path d="M439.71 162.65 L439.71 171.35 M438.21 162.65 L441.21 162.65 M438.21 171.35 L441.21 171.35"/>
<path d="M448.94 168.42 L448.94 176.78 M447.44 168.42 L450.44 168.42 M447.44 176.78 L450.44 176.78"/>
<path d="M458.17 172.74 L458.17 180.86 M456.67 172.74 L459.67 172.74 M456.67 180.86 L459.67 180.86"/>
<path d="M467.40 176.56 L467.40 184.44 M465.90 176.56 L468.90 176.56 M465.90 184.44 L468.90 184.44"/>
<path d="M476.62 180.78 L476.62 188.42 M475.12 180.78 L478.12 180.78 M475.12 188.42 L478.12 188.42"/>
<path d="M485.85 184.90 L485.85 192.30 M484.35 184.90 L487.35 184.90 M484.35 192.30 L487.35 192.30"/>
<path d="M495.08 187.78 L495.08 195.02 M493.58 187.78 L496.58 187.78 M493.58 195.02 L496.58 195.02"/>
<path d="M518.15 193.55 L518.15 200.45 M516.65 193.55 L519.65 193.55 M516.65 200.45 L519.65 200.45"/>
<path d="M541.22 196.85 L541.22 203.55 M539.72 196.85 L542.72 196.85 M539.72 203.55 L542.72 203.55"/>
<path d="M587.36 201.79 L587.36 208.21 M585.86 201.79 L588.86 201.79 M585.86 208.21 L588.86 208.21"/>
<path d="M633.50 203.95 L633.50 210.25 M632.00 203.95 L635.00 203.95 M632.00 210.25 L635.00 210.25"/>
</g>
<rect x="401.10" y="210.30" width="3.40" height="3.40" fill="#fbe5d6" stroke="#ED7D31" stroke-width="0.8"/>
<rect x="405.71" y="188.30" width="3.40" height="3.40" fill="#fbe5d6" stroke="#ED7D31" stroke-width="0.8"/>
<rect x="410.33" y="175.30" width="3.40" height="3.40" fill="#fbe5d6" stroke="#ED7D31" stroke-width="0.8"/>
<rect x="419.56" y="163.30" width="3.40" height="3.40" fill="#fbe5d6" stroke="#ED7D31" stroke-width="0.8"/>
<rect x="428.78" y="162.30" width="3.40" height="3.40" fill="#fbe5d6" stroke="#ED7D31" stroke-width="0.8"/>
<rect x="438.01" y="165.30" width="3.40" height="3.40" fill="#fbe5d6" stroke="#ED7D31" stroke-width="0.8"/>
<rect x="447.24" y="170.90" width="3.40" height="3.40" fill="#fbe5d6" stroke="#ED7D31" stroke-width="0.8"/>
<rect x="456.47" y="175.10" width="3.40" height="3.40" fill="#fbe5d6" stroke="#ED7D31" stroke-width="0.8"/>
<rect x="465.70" y="178.80" width="3.40" height="3.40" fill="#fbe5d6" stroke="#ED7D31" stroke-width="0.8"/>
<rect x="474.92" y="182.90" width="3.40" height="3.40" fill="#fbe5d6" stroke="#ED7D31" stroke-width="0.8"/>
<rect x="484.15" y="186.90" width="3.40" height="3.40" fill="#fbe5d6" stroke="#ED7D31" stroke-width="0.8"/>
<rect x="493.38" y="189.70" width="3.40" height="3.40" fill="#fbe5d6" stroke="#ED7D31" stroke-width="0.8"/>
<rect x="516.45" y="195.30" width="3.40" height="3.40" fill="#fbe5d6" stroke="#ED7D31" stroke-width="0.8"/>
<rect x="539.52" y="198.50" width="3.40" height="3.40" fill="#fbe5d6" stroke="#ED7D31" stroke-width="0.8"/>
<rect x="585.66" y="203.30" width="3.40" height="3.40" fill="#fbe5d6" stroke="#ED7D31" stroke-width="0.8"/>
<rect x="631.80" y="205.40" width="3.40" height="3.40" fill="#fbe5d6" stroke="#ED7D31" stroke-width="0.8"/>
<path d="M402.80 212.00 C403.57 211.20 405.88 209.87 407.41 207.20 C408.95 204.53 409.72 201.37 412.03 196.00 C414.34 190.63 418.18 181.17 421.26 175.00 C424.33 168.83 427.41 162.92 430.48 159.00 C433.56 155.08 436.64 153.13 439.71 151.50 C442.79 149.87 445.86 149.52 448.94 149.20 C452.02 148.88 455.09 149.13 458.17 149.60 C461.24 150.07 464.32 150.77 467.40 152.00 C470.47 153.23 473.55 155.43 476.62 157.00 C479.70 158.57 482.78 159.93 485.85 161.40 C488.93 162.87 489.70 163.53 495.08 165.80 C500.46 168.07 510.46 172.25 518.15 175.00 C525.84 177.75 529.69 179.23 541.22 182.30 C552.75 185.37 571.98 190.50 587.36 193.40 C602.74 196.30 625.81 198.65 633.50 199.70" fill="none" stroke="#A5A5A5" stroke-width="1.1"/>
<g stroke="#595959" stroke-width="0.8">
<path d="M407.41 203.67 L407.41 210.73 M405.91 203.67 L408.91 203.67 M405.91 210.73 L408.91 210.73"/>
<path d="M412.03 191.24 L412.03 200.76 M410.53 191.24 L413.53 191.24 M410.53 200.76 L413.53 200.76"/>
<path d="M421.26 167.93 L421.26 182.07 M419.76 167.93 L422.76 167.93 M419.76 182.07 L422.76 182.07"/>
<path d="M430.48 150.17 L430.48 167.83 M428.98 150.17 L431.98 150.17 M428.98 167.83 L431.98 167.83"/>
<path d="M439.71 141.84 L439.71 161.16 M438.21 141.84 L441.21 141.84 M438.21 161.16 L441.21 161.16"/>
<path d="M448.94 139.29 L448.94 159.11 M447.44 139.29 L450.44 139.29 M447.44 159.11 L450.44 159.11"/>
<path d="M458.17 139.74 L458.17 159.46 M456.67 139.74 L459.67 139.74 M456.67 159.46 L459.67 159.46"/>
<path d="M467.40 142.40 L467.40 161.60 M465.90 142.40 L468.90 142.40 M465.90 161.60 L468.90 161.60"/>
<path d="M476.62 147.95 L476.62 166.05 M475.12 147.95 L478.12 147.95 M475.12 166.05 L478.12 166.05"/>
<path d="M485.85 152.83 L485.85 169.97 M484.35 152.83 L487.35 152.83 M484.35 169.97 L487.35 169.97"/>
<path d="M495.08 157.72 L495.08 173.88 M493.58 157.72 L496.58 157.72 M493.58 173.88 L496.58 173.88"/>
<path d="M518.15 167.93 L518.15 182.07 M516.65 167.93 L519.65 167.93 M516.65 182.07 L519.65 182.07"/>
<path d="M541.22 176.03 L541.22 188.57 M539.72 176.03 L542.72 176.03 M539.72 188.57 L542.72 188.57"/>
<path d="M587.36 188.35 L587.36 198.45 M585.86 188.35 L588.86 188.35 M585.86 198.45 L588.86 198.45"/>
<path d="M633.50 195.35 L633.50 204.05 M632.00 195.35 L635.00 195.35 M632.00 204.05 L635.00 204.05"/>
</g>
<path d="M402.80 210.10 L404.70 213.52 L400.90 213.52 Z" fill="none" stroke="#A5A5A5" stroke-width="0.9"/>
<path d="M407.41 205.30 L409.31 208.72 L405.51 208.72 Z" fill="none" stroke="#A5A5A5" stroke-width="0.9"/>
<path d="M412.03 194.10 L413.93 197.52 L410.13 197.52 Z" fill="none" stroke="#A5A5A5" stroke-width="0.9"/>
<path d="M421.26 173.10 L423.16 176.52 L419.36 176.52 Z" fill="none" stroke="#A5A5A5" stroke-width="0.9"/>
<path d="M430.48 157.10 L432.38 160.52 L428.58 160.52 Z" fill="none" stroke="#A5A5A5" stroke-width="0.9"/>
<path d="M439.71 149.60 L441.61 153.02 L437.81 153.02 Z" fill="none" stroke="#A5A5A5" stroke-width="0.9"/>
<path d="M448.94 147.30 L450.84 150.72 L447.04 150.72 Z" fill="none" stroke="#A5A5A5" stroke-width="0.9"/>
<path d="M458.17 147.70 L460.07 151.12 L456.27 151.12 Z" fill="none" stroke="#A5A5A5" stroke-width="0.9"/>
<path d="M467.40 150.10 L469.30 153.52 L465.50 153.52 Z" fill="none" stroke="#A5A5A5" stroke-width="0.9"/>
<path d="M476.62 155.10 L478.52 158.52 L474.72 158.52 Z" fill="none" stroke="#A5A5A5" stroke-width="0.9"/>
<path d="M485.85 159.50 L487.75 162.92 L483.95 162.92 Z" fill="none" stroke="#A5A5A5" stroke-width="0.9"/>
<path d="M495.08 163.90 L496.98 167.32 L493.18 167.32 Z" fill="none" stroke="#A5A5A5" stroke-width="0.9"/>
<path d="M518.15 173.10 L520.05 176.52 L516.25 176.52 Z" fill="none" stroke="#A5A5A5" stroke-width="0.9"/>
<path d="M541.22 180.40 L543.12 183.82 L539.32 183.82 Z" fill="none" stroke="#A5A5A5" stroke-width="0.9"/>
<path d="M587.36 191.50 L589.26 194.92 L585.46 194.92 Z" fill="none" stroke="#A5A5A5" stroke-width="0.9"/>
<path d="M633.50 197.80 L635.40 201.22 L631.60 201.22 Z" fill="none" stroke="#A5A5A5" stroke-width="0.9"/>
<path d="M402.80 212.00 C403.57 211.92 405.88 212.05 407.41 211.50 C408.95 210.95 409.72 211.42 412.03 208.70 C414.34 205.98 418.18 200.32 421.26 195.20 C424.33 190.08 427.41 183.45 430.48 178.00 C433.56 172.55 436.64 167.25 439.71 162.50 C442.79 157.75 445.86 153.05 448.94 149.50 C452.02 145.95 455.09 143.03 458.17 141.20 C461.24 139.37 464.32 139.00 467.40 138.50 C470.47 138.00 473.55 138.03 476.62 138.20 C479.70 138.37 482.78 138.77 485.85 139.50 C488.93 140.23 489.70 140.60 495.08 142.60 C500.46 144.60 510.46 148.27 518.15 151.50 C525.84 154.73 529.69 157.92 541.22 162.00 C552.75 166.08 571.98 171.98 587.36 176.00 C602.74 180.02 625.81 184.42 633.50 186.10" fill="none" stroke="#FFC000" stroke-width="1.1"/>
<g stroke="#595959" stroke-width="0.8">
<path d="M421.26 190.35 L421.26 200.05 M419.76 190.35 L422.76 190.35 M419.76 200.05 L422.76 200.05"/>
<path d="M430.48 171.26 L430.48 184.74 M428.98 171.26 L431.98 171.26 M428.98 184.74 L431.98 184.74"/>
<path d="M439.71 154.06 L439.71 170.94 M438.21 154.06 L441.21 154.06 M438.21 170.94 L441.21 170.94"/>
<path d="M448.94 139.62 L448.94 159.38 M447.44 139.62 L450.44 139.62 M447.44 159.38 L450.44 159.38"/>
<path d="M458.17 130.41 L458.17 151.99 M456.67 130.41 L459.67 130.41 M456.67 151.99 L459.67 151.99"/>
<path d="M467.40 127.41 L467.40 149.59 M465.90 127.41 L468.90 127.41 M465.90 149.59 L468.90 149.59"/>
<path d="M476.62 127.08 L476.62 149.32 M475.12 127.08 L478.12 127.08 M475.12 149.32 L478.12 149.32"/>
<path d="M485.85 128.53 L485.85 150.47 M484.35 128.53 L487.35 128.53 M484.35 150.47 L487.35 150.47"/>
<path d="M495.08 131.97 L495.08 153.23 M493.58 131.97 L496.58 131.97 M493.58 153.23 L496.58 153.23"/>
<path d="M518.15 141.84 L518.15 161.16 M516.65 141.84 L519.65 141.84 M516.65 161.16 L519.65 161.16"/>
<path d="M541.22 153.50 L541.22 170.50 M539.72 153.50 L542.72 153.50 M539.72 170.50 L542.72 170.50"/>
<path d="M587.36 169.04 L587.36 182.96 M585.86 169.04 L588.86 169.04 M585.86 182.96 L588.86 182.96"/>
<path d="M633.50 180.25 L633.50 191.95 M632.00 180.25 L635.00 180.25 M632.00 191.95 L635.00 191.95"/>
</g>
<path d="M400.90 210.10 L404.70 213.90 M400.90 213.90 L404.70 210.10" stroke="#FFC000" stroke-width="1"/>
<path d="M405.51 209.60 L409.31 213.40 M405.51 213.40 L409.31 209.60" stroke="#FFC000" stroke-width="1"/>
<path d="M410.13 206.80 L413.93 210.60 M410.13 210.60 L413.93 206.80" stroke="#FFC000" stroke-width="1"/>
<path d="M419.36 193.30 L423.16 197.10 M419.36 197.10 L423.16 193.30" stroke="#FFC000" stroke-width="1"/>
<path d="M428.58 176.10 L432.38 179.90 M428.58 179.90 L432.38 176.10" stroke="#FFC000" stroke-width="1"/>
<path d="M437.81 160.60 L441.61 164.40 M437.81 164.40 L441.61 160.60" stroke="#FFC000" stroke-width="1"/>
<path d="M447.04 147.60 L450.84 151.40 M447.04 151.40 L450.84 147.60" stroke="#FFC000" stroke-width="1"/>
<path d="M456.27 139.30 L460.07 143.10 M456.27 143.10 L460.07 139.30" stroke="#FFC000" stroke-width="1"/>
<path d="M465.50 136.60 L469.30 140.40 M465.50 140.40 L469.30 136.60" stroke="#FFC000" stroke-width="1"/>
<path d="M474.72 136.30 L478.52 140.10 M474.72 140.10 L478.52 136.30" stroke="#FFC000" stroke-width="1"/>
<path d="M483.95 137.60 L487.75 141.40 M483.95 141.40 L487.75 137.60" stroke="#FFC000" stroke-width="1"/>
<path d="M493.18 140.70 L496.98 144.50 M493.18 144.50 L496.98 140.70" stroke="#FFC000" stroke-width="1"/>
<path d="M516.25 149.60 L520.05 153.40 M516.25 153.40 L520.05 149.60" stroke="#FFC000" stroke-width="1"/>
<path d="M539.32 160.10 L543.12 163.90 M539.32 163.90 L543.12 160.10" stroke="#FFC000" stroke-width="1"/>
<path d="M585.46 174.10 L589.26 177.90 M585.46 177.90 L589.26 174.10" stroke="#FFC000" stroke-width="1"/>
<path d="M631.60 184.20 L635.40 188.00 M631.60 188.00 L635.40 184.20" stroke="#FFC000" stroke-width="1"/>
<path d="M402.80 212.00 C403.57 212.00 405.88 212.08 407.41 212.00 C408.95 211.92 409.72 212.47 412.03 211.50 C414.34 210.53 418.18 208.90 421.26 206.20 C424.33 203.50 427.41 199.58 430.48 195.30 C433.56 191.02 436.64 185.42 439.71 180.50 C442.79 175.58 445.86 170.32 448.94 165.80 C452.02 161.28 455.09 157.17 458.17 153.40 C461.24 149.63 464.32 146.03 467.40 143.20 C470.47 140.37 473.55 138.15 476.62 136.40 C479.70 134.65 482.78 133.50 485.85 132.70 C488.93 131.90 489.70 130.97 495.08 131.60 C500.46 132.23 510.46 134.58 518.15 136.50 C525.84 138.42 529.69 138.97 541.22 143.10 C552.75 147.23 571.98 156.10 587.36 161.30 C602.74 166.50 625.81 172.13 633.50 174.30" fill="none" stroke="#4472C4" stroke-width="1.1"/>
<path d="M400.90 210.10 L404.70 213.90 M400.90 213.90 L404.70 210.10 M402.80 210.10 L402.80 213.90" stroke="#4472C4" stroke-width="1"/>
<path d="M405.51 210.10 L409.31 213.90 M405.51 213.90 L409.31 210.10 M407.41 210.10 L407.41 213.90" stroke="#4472C4" stroke-width="1"/>
<path d="M410.13 209.60 L413.93 213.40 M410.13 213.40 L413.93 209.60 M412.03 209.60 L412.03 213.40" stroke="#4472C4" stroke-width="1"/>
<path d="M419.36 204.30 L423.16 208.10 M419.36 208.10 L423.16 204.30 M421.26 204.30 L421.26 208.10" stroke="#4472C4" stroke-width="1"/>
<path d="M428.58 193.40 L432.38 197.20 M428.58 197.20 L432.38 193.40 M430.48 193.40 L430.48 197.20" stroke="#4472C4" stroke-width="1"/>
<path d="M437.81 178.60 L441.61 182.40 M437.81 182.40 L441.61 178.60 M439.71 178.60 L439.71 182.40" stroke="#4472C4" stroke-width="1"/>
<path d="M447.04 163.90 L450.84 167.70 M447.04 167.70 L450.84 163.90 M448.94 163.90 L448.94 167.70" stroke="#4472C4" stroke-width="1"/>
<path d="M456.27 151.50 L460.07 155.30 M456.27 155.30 L460.07 151.50 M458.17 151.50 L458.17 155.30" stroke="#4472C4" stroke-width="1"/>
<path d="M465.50 141.30 L469.30 145.10 M465.50 145.10 L469.30 141.30 M467.40 141.30 L467.40 145.10" stroke="#4472C4" stroke-width="1"/>
<path d="M474.72 134.50 L478.52 138.30 M474.72 138.30 L478.52 134.50 M476.62 134.50 L476.62 138.30" stroke="#4472C4" stroke-width="1"/>
<path d="M483.95 130.80 L487.75 134.60 M483.95 134.60 L487.75 130.80 M485.85 130.80 L485.85 134.60" stroke="#4472C4" stroke-width="1"/>
<path d="M493.18 129.70 L496.98 133.50 M493.18 133.50 L496.98 129.70 M495.08 129.70 L495.08 133.50" stroke="#4472C4" stroke-width="1"/>
<path d="M516.25 134.60 L520.05 138.40 M516.25 138.40 L520.05 134.60 M518.15 134.60 L518.15 138.40" stroke="#4472C4" stroke-width="1"/>
<path d="M539.32 141.20 L543.12 145.00 M539.32 145.00 L543.12 141.20 M541.22 141.20 L541.22 145.00" stroke="#4472C4" stroke-width="1"/>
<path d="M585.46 159.40 L589.26 163.20 M585.46 163.20 L589.26 159.40 M587.36 159.40 L587.36 163.20" stroke="#4472C4" stroke-width="1"/>
<path d="M631.60 172.40 L635.40 176.20 M631.60 176.20 L635.40 172.40 M633.50 172.40 L633.50 176.20" stroke="#4472C4" stroke-width="1"/>
<path d="M402.80 212.00 C403.57 212.00 405.88 212.00 407.41 212.00 C408.95 212.00 409.72 212.25 412.03 212.00 C414.34 211.75 418.18 211.60 421.26 210.50 C424.33 209.40 427.41 207.87 430.48 205.40 C433.56 202.93 436.64 199.35 439.71 195.70 C442.79 192.05 445.86 187.68 448.94 183.50 C452.02 179.32 455.09 175.07 458.17 170.60 C461.24 166.13 464.32 160.80 467.40 156.70 C470.47 152.60 473.55 149.20 476.62 146.00 C479.70 142.80 482.78 139.73 485.85 137.50 C488.93 135.27 489.70 134.30 495.08 132.60 C500.46 130.90 510.46 127.67 518.15 127.30 C525.84 126.93 529.69 127.55 541.22 130.40 C552.75 133.25 571.98 139.40 587.36 144.40 C602.74 149.40 625.81 157.73 633.50 160.40" fill="none" stroke="#70AD47" stroke-width="1.1"/>
<path d="M402.80 210.40 L404.40 213.28 L401.20 213.28 Z" fill="#70AD47" stroke="#70AD47" stroke-width="0.6"/>
<path d="M407.41 210.40 L409.01 213.28 L405.81 213.28 Z" fill="#70AD47" stroke="#70AD47" stroke-width="0.6"/>
<path d="M412.03 210.40 L413.63 213.28 L410.43 213.28 Z" fill="#70AD47" stroke="#70AD47" stroke-width="0.6"/>
<path d="M421.26 208.90 L422.86 211.78 L419.66 211.78 Z" fill="#70AD47" stroke="#70AD47" stroke-width="0.6"/>
<path d="M430.48 203.80 L432.08 206.68 L428.88 206.68 Z" fill="#70AD47" stroke="#70AD47" stroke-width="0.6"/>
<path d="M439.71 194.10 L441.31 196.98 L438.11 196.98 Z" fill="#70AD47" stroke="#70AD47" stroke-width="0.6"/>
<path d="M448.94 181.90 L450.54 184.78 L447.34 184.78 Z" fill="#70AD47" stroke="#70AD47" stroke-width="0.6"/>
<path d="M458.17 169.00 L459.77 171.88 L456.57 171.88 Z" fill="#70AD47" stroke="#70AD47" stroke-width="0.6"/>
<path d="M467.40 155.10 L469.00 157.98 L465.80 157.98 Z" fill="#70AD47" stroke="#70AD47" stroke-width="0.6"/>
<path d="M476.62 144.40 L478.22 147.28 L475.02 147.28 Z" fill="#70AD47" stroke="#70AD47" stroke-width="0.6"/>
<path d="M485.85 135.90 L487.45 138.78 L484.25 138.78 Z" fill="#70AD47" stroke="#70AD47" stroke-width="0.6"/>
<path d="M495.08 131.00 L496.68 133.88 L493.48 133.88 Z" fill="#70AD47" stroke="#70AD47" stroke-width="0.6"/>
<path d="M518.15 125.70 L519.75 128.58 L516.55 128.58 Z" fill="#70AD47" stroke="#70AD47" stroke-width="0.6"/>
<path d="M541.22 128.80 L542.82 131.68 L539.62 131.68 Z" fill="#70AD47" stroke="#70AD47" stroke-width="0.6"/>
<path d="M587.36 142.80 L588.96 145.68 L585.76 145.68 Z" fill="#70AD47" stroke="#70AD47" stroke-width="0.6"/>
<path d="M633.50 158.80 L635.10 161.68 L631.90 161.68 Z" fill="#70AD47" stroke="#70AD47" stroke-width="0.6"/>
<path d="M402.80 212.00 C403.57 212.00 405.88 212.00 407.41 212.00 C408.95 212.00 409.72 212.08 412.03 212.00 C414.34 211.92 418.18 211.92 421.26 211.50 C424.33 211.08 427.41 210.52 430.48 209.50 C433.56 208.48 436.64 207.70 439.71 205.40 C442.79 203.10 445.86 199.02 448.94 195.70 C452.02 192.38 455.09 189.03 458.17 185.50 C461.24 181.97 464.32 178.45 467.40 174.50 C470.47 170.55 473.55 165.73 476.62 161.80 C479.70 157.87 482.78 154.32 485.85 150.90 C488.93 147.48 489.70 145.25 495.08 141.30 C500.46 137.35 510.46 130.32 518.15 127.20 C525.84 124.08 529.69 121.78 541.22 122.60 C552.75 123.42 571.98 128.15 587.36 132.10 C602.74 136.05 625.81 143.93 633.50 146.30" fill="none" stroke="#255E91" stroke-width="1.1"/>
<path d="M400.90 212.00 L404.70 212.00 M402.80 210.10 L402.80 213.90" stroke="#255E91" stroke-width="1"/>
<path d="M405.51 212.00 L409.31 212.00 M407.41 210.10 L407.41 213.90" stroke="#255E91" stroke-width="1"/>
<path d="M410.13 212.00 L413.93 212.00 M412.03 210.10 L412.03 213.90" stroke="#255E91" stroke-width="1"/>
<path d="M419.36 211.50 L423.16 211.50 M421.26 209.60 L421.26 213.40" stroke="#255E91" stroke-width="1"/>
<path d="M428.58 209.50 L432.38 209.50 M430.48 207.60 L430.48 211.40" stroke="#255E91" stroke-width="1"/>
<path d="M437.81 205.40 L441.61 205.40 M439.71 203.50 L439.71 207.30" stroke="#255E91" stroke-width="1"/>
<path d="M447.04 195.70 L450.84 195.70 M448.94 193.80 L448.94 197.60" stroke="#255E91" stroke-width="1"/>
<path d="M456.27 185.50 L460.07 185.50 M458.17 183.60 L458.17 187.40" stroke="#255E91" stroke-width="1"/>
<path d="M465.50 174.50 L469.30 174.50 M467.40 172.60 L467.40 176.40" stroke="#255E91" stroke-width="1"/>
<path d="M474.72 161.80 L478.52 161.80 M476.62 159.90 L476.62 163.70" stroke="#255E91" stroke-width="1"/>
<path d="M483.95 150.90 L487.75 150.90 M485.85 149.00 L485.85 152.80" stroke="#255E91" stroke-width="1"/>
<path d="M493.18 141.30 L496.98 141.30 M495.08 139.40 L495.08 143.20" stroke="#255E91" stroke-width="1"/>
<path d="M516.25 127.20 L520.05 127.20 M518.15 125.30 L518.15 129.10" stroke="#255E91" stroke-width="1"/>
<path d="M539.32 122.60 L543.12 122.60 M541.22 120.70 L541.22 124.50" stroke="#255E91" stroke-width="1"/>
<path d="M585.46 132.10 L589.26 132.10 M587.36 130.20 L587.36 134.00" stroke="#255E91" stroke-width="1"/>
<path d="M631.60 146.30 L635.40 146.30 M633.50 144.40 L633.50 148.20" stroke="#255E91" stroke-width="1"/>
<path d="M402.80 212.00 C403.57 212.00 405.88 212.00 407.41 212.00 C408.95 212.00 409.72 212.00 412.03 212.00 C414.34 212.00 418.18 212.08 421.26 212.00 C424.33 211.92 427.41 211.83 430.48 211.50 C433.56 211.17 436.64 211.07 439.71 210.00 C442.79 208.93 445.86 207.13 448.94 205.10 C452.02 203.07 455.09 200.68 458.17 197.80 C461.24 194.92 464.32 191.07 467.40 187.80 C470.47 184.53 473.55 181.77 476.62 178.20 C479.70 174.63 482.78 170.02 485.85 166.40 C488.93 162.78 489.70 161.68 495.08 156.50 C500.46 151.32 510.46 140.78 518.15 135.30 C525.84 129.82 529.69 125.53 541.22 123.60 C552.75 121.67 571.98 121.83 587.36 123.70 C602.74 125.57 625.81 132.95 633.50 134.80" fill="none" stroke="#9E480E" stroke-width="1.1"/>
<path d="M401.20 212.00 L404.40 212.00" stroke="#9E480E" stroke-width="1.5"/>
<path d="M405.81 212.00 L409.01 212.00" stroke="#9E480E" stroke-width="1.5"/>
<path d="M410.43 212.00 L413.63 212.00" stroke="#9E480E" stroke-width="1.5"/>
<path d="M419.66 212.00 L422.86 212.00" stroke="#9E480E" stroke-width="1.5"/>
<path d="M428.88 211.50 L432.08 211.50" stroke="#9E480E" stroke-width="1.5"/>
<path d="M438.11 210.00 L441.31 210.00" stroke="#9E480E" stroke-width="1.5"/>
<path d="M447.34 205.10 L450.54 205.10" stroke="#9E480E" stroke-width="1.5"/>
<path d="M456.57 197.80 L459.77 197.80" stroke="#9E480E" stroke-width="1.5"/>
<path d="M465.80 187.80 L469.00 187.80" stroke="#9E480E" stroke-width="1.5"/>
<path d="M475.02 178.20 L478.22 178.20" stroke="#9E480E" stroke-width="1.5"/>
<path d="M484.25 166.40 L487.45 166.40" stroke="#9E480E" stroke-width="1.5"/>
<path d="M493.48 156.50 L496.68 156.50" stroke="#9E480E" stroke-width="1.5"/>
<path d="M516.55 135.30 L519.75 135.30" stroke="#9E480E" stroke-width="1.5"/>
<path d="M539.62 123.60 L542.82 123.60" stroke="#9E480E" stroke-width="1.5"/>
<path d="M585.76 123.70 L588.96 123.70" stroke="#9E480E" stroke-width="1.5"/>
<path d="M631.90 134.80 L635.10 134.80" stroke="#9E480E" stroke-width="1.5"/>
<path d="M402.80 212.00 C403.57 212.00 405.88 212.00 407.41 212.00 C408.95 212.00 409.72 212.00 412.03 212.00 C414.34 212.00 418.18 212.00 421.26 212.00 C424.33 212.00 427.41 212.17 430.48 212.00 C433.56 211.83 436.64 211.83 439.71 211.00 C442.79 210.17 445.86 208.87 448.94 207.00 C452.02 205.13 455.09 203.50 458.17 199.80 C461.24 196.10 464.32 190.80 467.40 184.80 C470.47 178.80 473.55 172.10 476.62 163.80 C479.70 155.50 482.78 145.98 485.85 135.00 C488.93 124.02 489.70 123.73 495.08 97.90 C500.46 72.07 510.46 12.98 518.15 -20.00 C525.84 -52.98 529.69 -53.33 541.22 -100.00 C552.75 -146.67 571.98 -233.33 587.36 -300.00 C602.74 -366.67 625.81 -466.67 633.50 -500.00" fill="none" stroke="#636363" stroke-width="1.1"/>
<circle cx="402.80" cy="212.00" r="2.10" fill="none" stroke="#636363" stroke-width="0.9"/>
<circle cx="407.41" cy="212.00" r="2.10" fill="none" stroke="#636363" stroke-width="0.9"/>
<circle cx="412.03" cy="212.00" r="2.10" fill="none" stroke="#636363" stroke-width="0.9"/>
<circle cx="421.26" cy="212.00" r="2.10" fill="none" stroke="#636363" stroke-width="0.9"/>
<circle cx="430.48" cy="212.00" r="2.10" fill="none" stroke="#636363" stroke-width="0.9"/>
<circle cx="439.71" cy="211.00" r="2.10" fill="none" stroke="#636363" stroke-width="0.9"/>
<circle cx="448.94" cy="207.00" r="2.10" fill="none" stroke="#636363" stroke-width="0.9"/>
<circle cx="458.17" cy="199.80" r="2.10" fill="none" stroke="#636363" stroke-width="0.9"/>
<circle cx="467.40" cy="184.80" r="2.10" fill="none" stroke="#636363" stroke-width="0.9"/>
<circle cx="476.62" cy="163.80" r="2.10" fill="none" stroke="#636363" stroke-width="0.9"/>
<circle cx="485.85" cy="135.00" r="2.10" fill="none" stroke="#636363" stroke-width="0.9"/>
<circle cx="495.08" cy="97.90" r="2.10" fill="none" stroke="#636363" stroke-width="0.9"/>
<circle cx="518.15" cy="-20.00" r="2.10" fill="none" stroke="#636363" stroke-width="0.9"/>
<circle cx="541.22" cy="-100.00" r="2.10" fill="none" stroke="#636363" stroke-width="0.9"/>
<circle cx="587.36" cy="-300.00" r="2.10" fill="none" stroke="#636363" stroke-width="0.9"/>
<circle cx="633.50" cy="-500.00" r="2.10" fill="none" stroke="#636363" stroke-width="0.9"/>
</g>
<path d="M402.80 64.50 L633.50 64.50 L633.50 212.00" fill="none" stroke="#505050" stroke-width="1"/>
<path d="M494.80 72.40 L509.30 72.40" stroke="#ED7D31" stroke-width="1.3"/>
<rect x="500.35" y="70.70" width="3.40" height="3.40" fill="#fbe5d6" stroke="#ED7D31" stroke-width="0.8"/>
<text x="510.90" y="75.60" font-size="9.00" fill="#595959" text-anchor="start" font-weight="normal" textLength="38.70" lengthAdjust="spacingAndGlyphs">cDSB( 1 Hit)</text>
<path d="M565.40 72.40 L580.70 72.40" stroke="#A5A5A5" stroke-width="1.3"/>
<path d="M573.05 70.50 L574.95 73.92 L571.15 73.92 Z" fill="none" stroke="#A5A5A5" stroke-width="0.9"/>
<text x="582.40" y="75.60" font-size="9.00" fill="#595959" text-anchor="start" font-weight="normal" textLength="42.00" lengthAdjust="spacingAndGlyphs">cDSB( 2 Hits)</text>
<path d="M494.80 85.30 L509.30 85.30" stroke="#FFC000" stroke-width="1.3"/>
<path d="M500.15 83.40 L503.95 87.20 M500.15 87.20 L503.95 83.40" stroke="#FFC000" stroke-width="1"/>
<text x="510.90" y="88.50" font-size="9.00" fill="#595959" text-anchor="start" font-weight="normal" textLength="42.00" lengthAdjust="spacingAndGlyphs">cDSB( 3 Hits)</text>
<path d="M565.40 85.30 L580.70 85.30" stroke="#4472C4" stroke-width="1.3"/>
<path d="M571.15 83.40 L574.95 87.20 M571.15 87.20 L574.95 83.40 M573.05 83.40 L573.05 87.20" stroke="#4472C4" stroke-width="1"/>
<text x="582.40" y="88.50" font-size="9.00" fill="#595959" text-anchor="start" font-weight="normal" textLength="42.00" lengthAdjust="spacingAndGlyphs">cDSB( 4 Hits)</text>
<path d="M494.80 97.90 L509.30 97.90" stroke="#70AD47" stroke-width="1.3"/>
<path d="M502.05 96.30 L503.65 99.18 L500.45 99.18 Z" fill="#70AD47" stroke="#70AD47" stroke-width="0.6"/>
<text x="510.90" y="101.10" font-size="9.00" fill="#595959" text-anchor="start" font-weight="normal" textLength="42.00" lengthAdjust="spacingAndGlyphs">cDSB( 5 Hits)</text>
<path d="M565.40 97.90 L580.70 97.90" stroke="#255E91" stroke-width="1.3"/>
<path d="M571.15 97.90 L574.95 97.90 M573.05 96.00 L573.05 99.80" stroke="#255E91" stroke-width="1"/>
<text x="582.40" y="101.10" font-size="9.00" fill="#595959" text-anchor="start" font-weight="normal" textLength="42.00" lengthAdjust="spacingAndGlyphs">cDSB( 6 Hits)</text>
<path d="M494.80 110.90 L509.30 110.90" stroke="#9E480E" stroke-width="1.3"/>
<path d="M500.45 110.90 L503.65 110.90" stroke="#9E480E" stroke-width="1.5"/>
<text x="510.90" y="114.10" font-size="9.00" fill="#595959" text-anchor="start" font-weight="normal" textLength="42.00" lengthAdjust="spacingAndGlyphs">cDSB( 7 Hits)</text>
<path d="M565.40 110.90 L580.70 110.90" stroke="#636363" stroke-width="1.3"/>
<circle cx="573.05" cy="110.90" r="2.10" fill="none" stroke="#636363" stroke-width="0.9"/>
<text x="582.40" y="114.10" font-size="9.00" fill="#595959" text-anchor="start" font-weight="normal" textLength="49.30" lengthAdjust="spacingAndGlyphs">cDSB( >=8 Hits)</text>
<g>
<rect x="0" y="0" width="667" height="1" fill="#dcdcdc"/>
<rect x="0" y="1" width="667" height="1" fill="#555"/>
<rect x="1" y="1" width="1.25" height="274" fill="#363636"/>
<rect x="1" y="273.8" width="664" height="1.25" fill="#111"/>
<rect x="665" y="1" width="1" height="274.5" fill="#7c7c7c"/>
<rect x="666" y="1" width="1" height="274.5" fill="#ababab"/>
<rect x="341" y="1" width="2" height="273" fill="#7a7a7a"/>
</g>
</svg>
</body></html>
